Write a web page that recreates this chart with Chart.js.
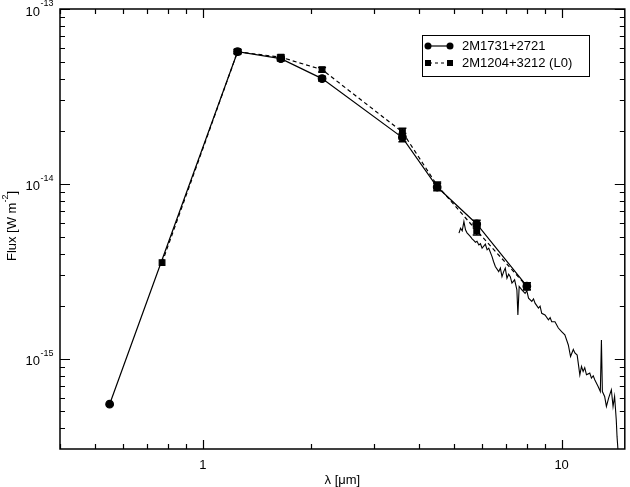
<!DOCTYPE html>
<html>
<head>
<meta charset="utf-8">
<script src="https://cdn.jsdelivr.net/npm/chart.js@4"></script>
<style>
  html, body { margin: 0; padding: 0; background: #fff; }
  #wrap { width: 630px; height: 487px; }
</style>
</head>
<body>
<div id="wrap"><canvas id="sed"></canvas></div>
<script>
// photometry, 2M1731+2721 (circles, solid)
const lambda1 = [0.55, 1.25, 1.65, 2.15, 3.6, 4.5, 5.8, 8.0];
const flux1 = [5.5e-16, 5.7e-14, 5.2e-14, 4.0e-14, 1.84e-14, 9.6e-15, 5.9e-15, 2.6e-15];
const err1 = [0, 1.6e-15, 1.5e-15, 1.2e-15, 1.0e-15, 4.5e-16, 3e-16, 1.2e-16];

// photometry, 2M1204+3212 (squares, dashed)
const lambda2 = [0.77, 1.25, 1.65, 2.15, 3.6, 4.5, 5.8, 8.0];
const flux2 = [3.55e-15, 5.7e-14, 5.3e-14, 4.5e-14, 1.98e-14, 9.8e-15, 5.4e-15, 2.6e-15];
const err2 = [0, 1.6e-15, 1.5e-15, 1.3e-15, 1.0e-15, 4.5e-16, 3e-16, 1.2e-16];

// IRS spectrum
const specLambda = [5.175, 5.228, 5.284, 5.342, 5.397, 5.45, 5.515, 5.57, 5.632, 5.69, 5.752, 5.81, 5.879, 5.94, 6.003, 6.131, 6.2, 6.266,
  6.399, 6.46, 6.535, 6.679, 6.75, 6.821, 6.895, 6.966, 7.042, 7.12, 7.193, 7.271, 7.396, 7.505, 7.553, 7.616, 7.748,
  7.912, 8.0, 8.087, 8.258, 8.35, 8.433, 8.619, 8.71, 8.802, 8.989, 9.189, 9.29, 9.383, 9.582, 9.792, 10.0, 10.21, 10.44,
  10.59, 10.78, 10.89, 11.05, 11.24, 11.36, 11.48, 11.6, 11.73, 11.98, 12.11, 12.25, 12.37, 12.64, 12.82, 12.91,
  12.99, 13.18, 13.33, 13.52, 13.76, 13.91, 14.05, 14.20, 14.27, 14.36];
const specFlux = [5.23e-15, 5.58e-15, 5.39e-15, 6.09e-15, 5.46e-15, 5.25e-15, 5.11e-15, 5.0e-15, 4.85e-15, 4.75e-15, 4.64e-15, 4.7e-15, 4.48e-15, 4.55e-15, 4.29e-15, 4.52e-15, 4.2e-15, 4.29e-15,
  3.84e-15, 3.6e-15, 3.37e-15, 3.15e-15, 3.3e-15, 2.95e-15, 3.15e-15, 3.30e-15, 2.89e-15, 3.05e-15, 2.95e-15, 2.71e-15, 2.83e-15, 2.48e-15, 1.78e-15, 2.59e-15, 2.48e-15,
  2.37e-15, 2.45e-15, 2.22e-15, 2.13e-15, 2.2e-15, 2.08e-15, 1.95e-15, 2.0e-15, 1.82e-15, 1.78e-15, 1.67e-15, 1.72e-15, 1.63e-15, 1.63e-15, 1.50e-15, 1.43e-15, 1.37e-15, 1.20e-15,
  1.03e-15, 1.13e-15, 1.08e-15, 1.05e-15, 8.1e-16, 9.04e-16, 8.46e-16, 8.9e-16, 8.1e-16, 8.28e-16, 7.76e-16, 8.0e-16, 7.59e-16, 6.95e-16, 6.50e-16, 1.28e-15,
  6.50e-16, 6.09e-16, 5.34e-16, 5.96e-16, 6.65e-16, 5.34e-16, 6.09e-16, 4.48e-16, 3.6e-16, 3.0e-16];

const xTickLabels = ['1', '10'];
const yTickLabels = ['-15', '-14', '-13'];
const legendLabels = ['2M1731+2721', '2M1204+3212 (L0)'];

const FONT = '"Liberation Sans", Arial, sans-serif';

function pts(xs, ys) {
  return xs.map((x, i) => ({ x: x, y: ys[i] }));
}

const errorBars = {
  id: 'errorBars',
  afterDatasetsDraw(chart) {
    const ctx = chart.ctx, xs = chart.scales.x, ys = chart.scales.y;
    ctx.save();
    ctx.strokeStyle = '#000';
    ctx.lineWidth = 1.5;
    [[lambda1, flux1, err1], [lambda2, flux2, err2]].forEach(([lx, fy, er]) => {
      lx.forEach((l, i) => {
        if (!er[i]) return;
        const px = xs.getPixelForValue(l);
        const top = ys.getPixelForValue(fy[i] + er[i]);
        const bot = ys.getPixelForValue(fy[i] - er[i]);
        ctx.beginPath();
        ctx.moveTo(px, top); ctx.lineTo(px, bot);
        ctx.moveTo(px - 4, top); ctx.lineTo(px + 4, top);
        ctx.moveTo(px - 4, bot); ctx.lineTo(px + 4, bot);
        ctx.stroke();
      });
    });
    ctx.restore();
  }
};

const frame = {
  id: 'frame',
  afterDraw(chart) {
    const ctx = chart.ctx, a = chart.chartArea;
    const xs = chart.scales.x, ys = chart.scales.y;
    ctx.save();
    ctx.strokeStyle = '#000';
    ctx.fillStyle = '#000';
    ctx.lineWidth = 1.5;
    ctx.strokeRect(a.left, a.top, a.right - a.left, a.bottom - a.top);

    // x ticks, bottom and top, pointing inward
    ctx.lineWidth = 1.2;
    ctx.beginPath();
    for (let d = -1; d <= 1; d++) {
      for (let m = 1; m <= 9; m++) {
        const v = m * Math.pow(10, d);
        if (v < xs.min || v > xs.max) continue;
        const px = Math.round(xs.getPixelForValue(v)) + 0.5;
        const len = m === 1 ? 9 : 5;
        ctx.moveTo(px, a.bottom); ctx.lineTo(px, a.bottom - len);
        ctx.moveTo(px, a.top); ctx.lineTo(px, a.top + len);
      }
    }
    // y ticks, left and right
    for (let d = -16; d <= -13; d++) {
      for (let m = 1; m <= 9; m++) {
        const v = m * Math.pow(10, d);
        if (v < ys.min * 0.999 || v > ys.max * 1.001) continue;
        const py = Math.round(ys.getPixelForValue(v)) + 0.5;
        const len = m === 1 ? 10 : 5;
        ctx.moveTo(a.left, py); ctx.lineTo(a.left + len, py);
        ctx.moveTo(a.right, py); ctx.lineTo(a.right - len, py);
      }
    }
    ctx.stroke();

    // x tick labels
    ctx.font = '13px ' + FONT;
    ctx.textAlign = 'center';
    ctx.textBaseline = 'middle';
    xTickLabels.forEach(t => {
      ctx.fillText(t, xs.getPixelForValue(parseFloat(t)), 465);
    });
    ctx.fillText('λ [μm]', (a.left + a.right) / 2, 480);

    // y tick labels 10^n
    yTickLabels.forEach(t => {
      const py = ys.getPixelForValue(Math.pow(10, parseInt(t, 10)));
      ctx.font = '13px ' + FONT;
      ctx.textAlign = 'right';
      ctx.fillText('10', 40, py + 3);
      ctx.font = '9px ' + FONT;
      ctx.textAlign = 'left';
      ctx.fillText(t, 40.5, py - 5);
    });

    // y title, rotated
    ctx.save();
    ctx.translate(12, 226);
    ctx.rotate(-Math.PI / 2);
    ctx.font = '13px ' + FONT;
    const s1 = 'Flux [W m', s3 = ']';
    ctx.font = '9px ' + FONT;
    const wSup = ctx.measureText('-2').width;
    ctx.font = '13px ' + FONT;
    const w1 = ctx.measureText(s1).width, w3 = ctx.measureText(s3).width;
    let x0 = -(w1 + wSup + w3) / 2;
    ctx.textAlign = 'left';
    ctx.textBaseline = 'middle';
    ctx.fillText(s1, x0, 0);
    ctx.font = '9px ' + FONT;
    ctx.fillText('-2', x0 + w1, -6);
    ctx.font = '13px ' + FONT;
    ctx.fillText(s3, x0 + w1 + wSup, 0);
    ctx.restore();

    // legend
    ctx.lineWidth = 1;
    ctx.strokeRect(422.5, 35.5, 167, 41);
    const rows = [46, 63];
    ctx.lineWidth = 1.2;
    ctx.beginPath();
    ctx.moveTo(428, rows[0]); ctx.lineTo(450, rows[0]);
    ctx.stroke();
    ctx.setLineDash([3, 3]);
    ctx.beginPath();
    ctx.moveTo(429, rows[1]); ctx.lineTo(450, rows[1]);
    ctx.stroke();
    ctx.setLineDash([]);
    [428, 450].forEach(px => {
      ctx.beginPath(); ctx.arc(px, rows[0], 3.5, 0, Math.PI * 2); ctx.fill();
      ctx.fillRect(px - 3, rows[1] - 3, 6, 6);
    });
    ctx.font = '13px ' + FONT;
    ctx.textAlign = 'left';
    ctx.textBaseline = 'middle';
    legendLabels.forEach((t, i) => ctx.fillText(t, 462, rows[i]));
    ctx.restore();
  }
};

new Chart(document.getElementById('sed'), {
  type: 'line',
  data: {
    datasets: [
      {
        label: 'spectrum',
        data: pts(specLambda, specFlux),
        borderColor: '#000',
        borderWidth: 1.1,
        pointRadius: 0,
        tension: 0,
        order: 3
      },
      {
        label: legendLabels[0],
        data: pts(lambda1, flux1),
        borderColor: '#000',
        backgroundColor: '#000',
        borderWidth: 1.2,
        pointStyle: 'circle',
        pointRadius: 3.8,
        tension: 0,
        order: 1
      },
      {
        label: legendLabels[1],
        data: pts(lambda2, flux2),
        borderColor: '#000',
        backgroundColor: '#000',
        borderWidth: 1.2,
        borderDash: [4, 3],
        pointStyle: 'rect',
        pointRadius: 4,
        tension: 0,
        order: 2
      }
    ]
  },
  options: {
    responsive: true,
    maintainAspectRatio: false,
    animation: false,
    layout: { padding: { left: 60, right: 1, top: 9, bottom: 38 } },
    plugins: { legend: { display: false }, tooltip: { enabled: false } },
    scales: {
      x: { type: 'logarithmic', min: 0.4, max: 15, display: false },
      y: { type: 'logarithmic', min: 3.05e-16, max: 1e-13, display: false }
    }
  },
  plugins: [errorBars, frame]
});
</script>
</body>
</html>
